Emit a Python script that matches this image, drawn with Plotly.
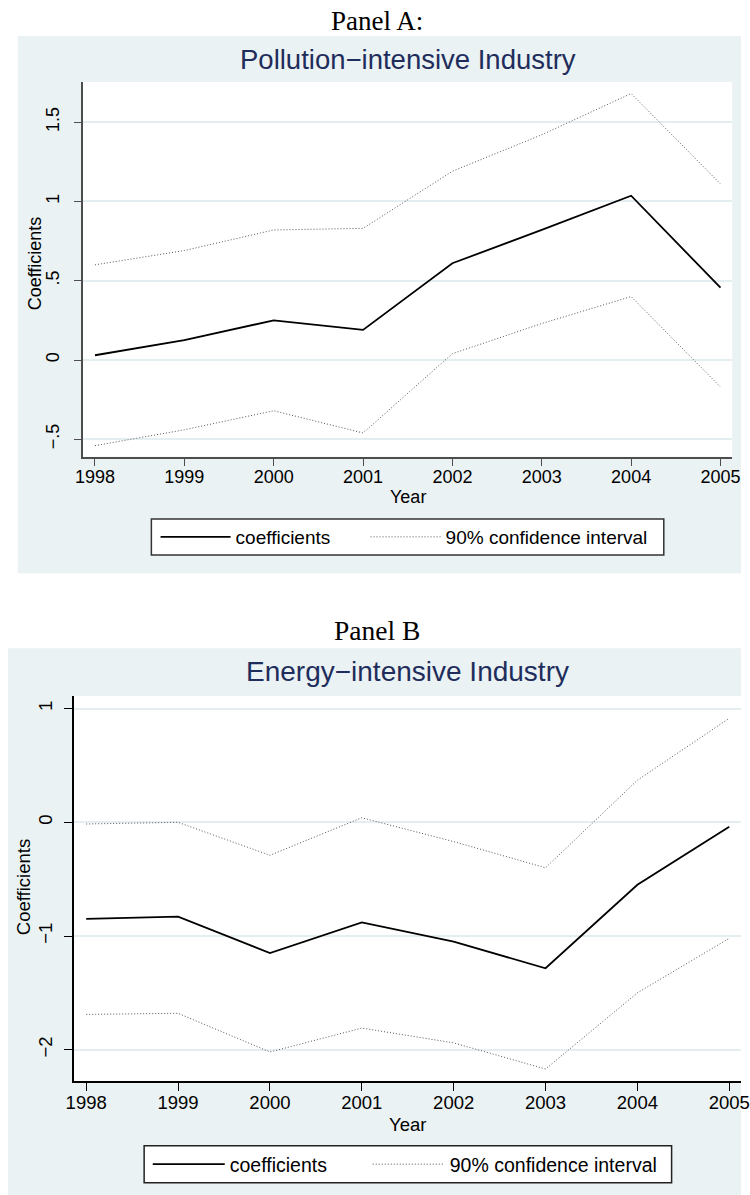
import plotly.graph_objects as go

# ---- data -----------------------------------------------------------------
years = [1998, 1999, 2000, 2001, 2002, 2003, 2004, 2005]
year_labels = ["1998", "1999", "2000", "2001", "2002", "2003", "2004", "2005"]

# Panel A: pollution-intensive industry
pollution_coef = [0.03, 0.125, 0.25, 0.19, 0.61, 0.82, 1.036, 0.456]
pollution_upper = [0.60, 0.69, 0.82, 0.83, 1.19, 1.42, 1.68, 1.11]
pollution_lower = [-0.54, -0.44, -0.32, -0.46, 0.04, 0.23, 0.40, -0.17]
pollution_yticks = [-0.5, 0, 0.5, 1, 1.5]
pollution_yticktext = ["−.5", "0", ".5", "1", "1.5"]

# Panel B: energy-intensive industry
energy_coef = [-0.85, -0.83, -1.15, -0.88, -1.05, -1.284, -0.55, -0.04]
energy_upper = [-0.015, 0.0, -0.29, 0.04, -0.17, -0.40, 0.37, 0.915]
energy_lower = [-1.69, -1.68, -2.02, -1.81, -1.94, -2.17, -1.50, -1.02]
energy_yticks = [-2, -1, 0, 1]
energy_yticktext = ["−2", "−1", "0", "1"]

# ---- styling ----------------------------------------------------------------
W, H = 750, 1195
SANS = "Liberation Sans, Arial, Helvetica, sans-serif"
SERIF = "Liberation Serif, Times New Roman, serif"
PANEL_BG = "#EAF2F3"
GRID = "#E4EDEF"
TITLE_COLOR = "#1F2D5C"
CI_LINE = dict(color="#555555", width=1, dash="1px,2px")
COEF_LINE = dict(color="black", width=1.8)


def px(x):
    return x / W


def py(y):
    return 1 - y / H


fig = go.Figure()


def add_series(coef, upper, lower, xa, ya, legend, w_coef, w_ci):
    fig.add_trace(go.Scatter(x=years, y=coef, mode="lines", name="coefficients",
                             line=COEF_LINE, xaxis=xa, yaxis=ya, legend=legend,
                             legendwidth=w_coef))
    fig.add_trace(go.Scatter(x=years, y=upper, mode="lines",
                             name="90% confidence interval",
                             line=CI_LINE, xaxis=xa, yaxis=ya, legend=legend,
                             legendwidth=w_ci))
    fig.add_trace(go.Scatter(x=years, y=lower, mode="lines",
                             name="90% confidence interval", showlegend=False,
                             line=CI_LINE, xaxis=xa, yaxis=ya, legend=legend))


add_series(pollution_coef, pollution_upper, pollution_lower, "x", "y", "legend", 125, 230)
add_series(energy_coef, energy_upper, energy_lower, "x2", "y2", "legend2", 133, 235)


def xaxis_style(domain, rng, anchor, color, ticklen, fsize):
    return dict(domain=domain, range=rng, anchor=anchor,
                tickmode="array", tickvals=years, ticktext=year_labels,
                showgrid=False, zeroline=False, showline=True,
                linecolor=color, linewidth=1.6, ticks="outside",
                ticklen=ticklen, tickwidth=1.3, tickcolor=color,
                tickfont=dict(family=SANS, size=fsize, color="black"),
                ticklabelstandoff=-4, ticklabeloverflow="allow", fixedrange=True)


def yaxis_style(domain, rng, anchor, vals, text, color, ticklen, fsize, standoff):
    return dict(domain=domain, range=rng, anchor=anchor,
                tickmode="array", tickvals=vals, ticktext=text, tickangle=-90,
                showgrid=True, gridcolor=GRID, gridwidth=1.6,
                zeroline=False, showline=True,
                linecolor=color, linewidth=1.6, ticks="outside",
                ticklen=ticklen, tickwidth=1.3, tickcolor=color,
                tickfont=dict(family=SANS, size=fsize, color="black"),
                ticklabelstandoff=standoff, fixedrange=True)


fig.update_layout(
    width=W, height=H, autosize=False,
    margin=dict(l=0, r=0, t=0, b=0, pad=0),
    paper_bgcolor="white", plot_bgcolor="white",
    xaxis=xaxis_style([px(76.7), px(741)], [1997.8655, 2005.1312], "y", "#4d4d4d", 7, 18),
    yaxis=yaxis_style([py(456.7), py(82)], [-0.6097, 1.7528], "x",
                      pollution_yticks, pollution_yticktext, "#4d4d4d", 7, 18, 8),
    xaxis2=xaxis_style([px(67.7), 1.0], [1997.869, 2005.1277], "y2", "black", 8, 18.5),
    yaxis2=yaxis_style([py(1081), py(696)], [-2.2753, 1.1108], "x2",
                       energy_yticks, energy_yticktext, "black", 8, 18.5, 5),
    legend=dict(orientation="h", x=px(151), y=py(537), xanchor="left", yanchor="middle",
                bgcolor="rgba(0,0,0,0)", borderwidth=0, itemwidth=70,
                font=dict(family=SANS, size=19, color="black")),
    legend2=dict(orientation="h", x=px(143), y=py(1164.5), xanchor="left", yanchor="middle",
                 bgcolor="rgba(0,0,0,0)", borderwidth=0, itemwidth=72,
                 font=dict(family=SANS, size=19.5, color="black")),
    showlegend=True,
)

# graph-region backgrounds, white plot regions and legend frames
shapes = [
    dict(type="rect", xref="paper", yref="paper", x0=px(10), x1=1, y0=py(573.3), y1=py(36),
         fillcolor=PANEL_BG, line=dict(width=0), layer="below"),
    dict(type="rect", xref="x domain", yref="y domain", x0=0, x1=1, y0=0, y1=1,
         fillcolor="white", line=dict(width=0), layer="below"),
    dict(type="rect", xref="paper", yref="paper", x0=0, x1=1, y0=0, y1=py(648.3),
         fillcolor=PANEL_BG, line=dict(width=0), layer="below"),
    dict(type="rect", xref="x2 domain", yref="y2 domain", x0=0, x1=1, y0=0, y1=1,
         fillcolor="white", line=dict(width=0), layer="below"),
    dict(type="rect", xref="paper", yref="paper", x0=px(146.7), x1=px(671), y0=py(555), y1=py(519),
         fillcolor="white", line=dict(color="#333333", width=1.5), layer="above"),
    dict(type="rect", xref="paper", yref="paper", x0=px(139.3), x1=px(679), y0=py(1182.7), y1=py(1145.7),
         fillcolor="white", line=dict(color="#222222", width=1.5), layer="above"),
]
fig.update_layout(shapes=shapes)


def text(s, x, y, size, family=SANS, color="black", angle=0):
    return dict(text=s, x=px(x), y=py(y), xref="paper", yref="paper",
                xanchor="center", yanchor="middle", showarrow=False, textangle=angle,
                font=dict(family=family, size=size, color=color))


fig.update_layout(annotations=[
    text("Panel A:", 378, 21, 27, family=SERIF),
    text("Pollution−intensive Industry", 409, 59, 27.5, color=TITLE_COLOR),
    text("Year", 409, 497, 18),
    text("Coefficients", 28, 263, 18, angle=-90),
    text("Panel B", 378, 630, 27.5, family=SERIF),
    text("Energy−intensive Industry", 409, 671.7, 28, color=TITLE_COLOR),
    text("Year", 409, 1124, 18.5),
    text("Coefficients", 16, 887.5, 18.5, angle=-90),
])

fig.write_html("out.html", config={"displayModeBar": False})
